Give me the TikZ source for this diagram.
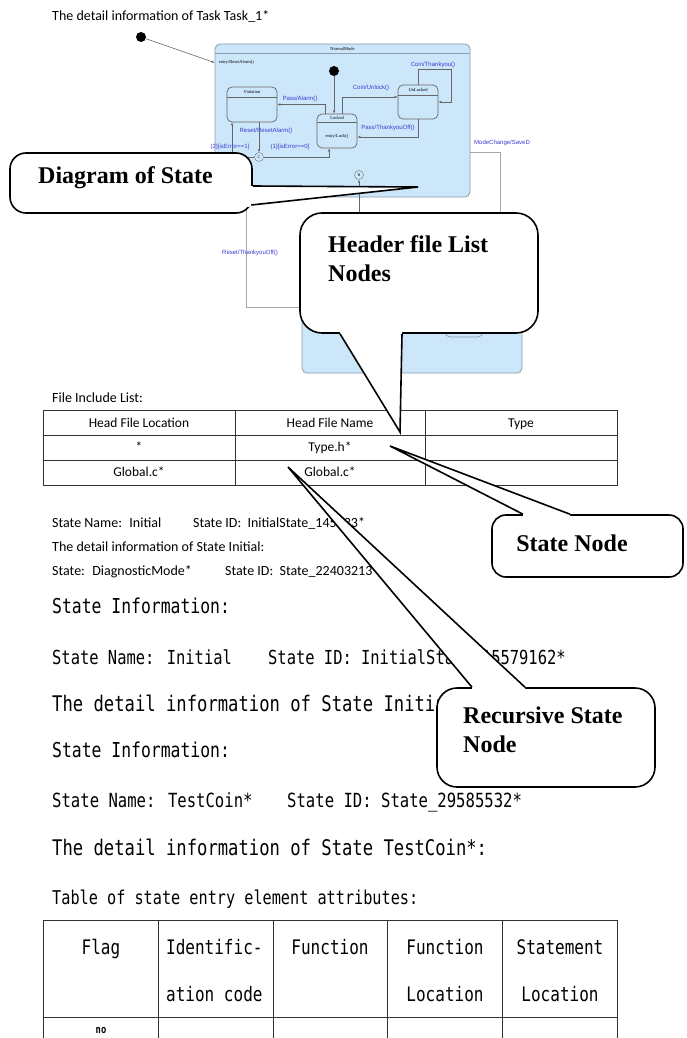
\documentclass[tikz,border=0pt]{standalone}
\usepackage{fontspec}
\setmainfont{Liberation Serif}
\newfontfamily\docfont{Carlito}
\newfontfamily\gothfont[FakeStretch=0.8]{DejaVu Sans Mono}
\newfontfamily\labfont{Liberation Sans}
\usetikzlibrary{arrows.meta}
\definecolor{stfill}{HTML}{CCE6FA}
\definecolor{stedge}{HTML}{8E9CAB}
\definecolor{trblue}{HTML}{3C3CD2}
\tikzstyle{superstate} = [draw=stedge,fill=stfill,rounded corners=5pt,line width=0.8pt]
\tikzstyle{substate} = [draw=black!60,rounded corners=5pt,line width=0.7pt]
\tikzstyle{junction} = [circle,draw=black!55,fill=stfill,minimum size=9pt,inner sep=0pt,font=\fontsize{4}{4}\selectfont]
\tikzstyle{initdot} = [circle,fill=black,minimum size=10pt,inner sep=0pt]
\tikzstyle{trans} = [draw=black!60,line width=0.6pt,-{Latex[length=3pt,width=2.5pt]}]
\tikzstyle{route} = [draw=black!35,line width=0.8pt]
\tikzstyle{trlabel} = [text=trblue,inner sep=0pt,font=\labfont\fontsize{6}{7}\selectfont]
\tikzstyle{stname} = [inner sep=0pt,font=\fontsize{4.5}{5}\selectfont]
\tikzstyle{doctext} = [anchor=base west,inner sep=0pt,font=\docfont\fontsize{14}{16}\selectfont]
\tikzstyle{cellfont} = [anchor=base,inner sep=0pt,font=\docfont\fontsize{13.5}{16}\selectfont]
\tikzstyle{gothtext} = [anchor=base west,inner sep=0pt,font=\gothfont\fontsize{20.5}{24}\selectfont]
\tikzstyle{gothcell} = [anchor=base,inner sep=0pt,font=\gothfont\fontsize{20}{24}\selectfont]
\tikzstyle{cell} = [draw=black!80,line width=0.9pt]
\tikzstyle{callout} = [draw=black,fill=white,line width=1.6pt,rounded corners=16pt]
\tikzstyle{callline} = [draw=black,line width=1.6pt]
\tikzstyle{calltext} = [align=left,inner sep=0pt,font=\bfseries\fontsize{24}{29}\selectfont]

\begin{document}
\begin{tikzpicture}[x=1pt,y=-1pt]
\useasboundingbox (0,0) rectangle (686,1038);
\fill[white] (0,0) rectangle (686,1038);

\node[doctext] (tasktitle) at (52,21) {The detail information of Task Task\_1*};

\node[superstate,minimum width=220pt,minimum height=148pt] (diagmode) at (412,299) {};
\node[substate,draw=stedge,fill=stfill,minimum width=38pt,minimum height=37pt] (diagsub) at (464,318.5) {};
\node[superstate,minimum width=255pt,minimum height=153pt] (normal) at (342.5,120.5) {};
\draw[stedge,line width=0.6pt] ([yshift=-10pt]normal.north west) -- ([yshift=-10pt]normal.north east);
\node[stname] (normalname) at ([yshift=-5pt]normal.north) {NormalMode};
\node[stname,anchor=west] (normalentry) at ([xshift=4pt,yshift=-19pt]normal.north west) {entry/ResetAlarm()};

\node[substate,minimum width=50pt,minimum height=35pt] (violation) at (252,104.5) {};
\node[substate,minimum width=40pt,minimum height=34pt] (locked) at (337,131) {};
\node[substate,minimum width=40pt,minimum height=34pt] (unlocked) at (418,102) {};
\draw[black!60,line width=0.6pt] ([yshift=-11pt]violation.north west) -- ([yshift=-11pt]violation.north east);
\draw[black!60,line width=0.6pt] ([yshift=-9pt]locked.north west) -- ([yshift=-9pt]locked.north east);
\draw[black!60,line width=0.6pt] ([yshift=-11pt]unlocked.north west) -- ([yshift=-11pt]unlocked.north east);
\node[stname] (violationname) at ([yshift=-5.5pt]violation.north) {Violation};
\node[stname] (lockedname) at ([yshift=-4.5pt]locked.north) {Locked};
\node[stname] (unlockedname) at ([yshift=-5.5pt]unlocked.north) {UnLocked};
\node[stname] (lockedentry) at ([yshift=-5pt]locked.center) {entry/Lock()};

\node[junction] (cjunc) at (259,157) {C};
\node[junction] (hjunc) at (359,175) {H};
\node[initdot] (taskinit) at (141,37) {};
\node[initdot] (normalinit) at (334,71) {};
\coordinate (hsrc) at (393,212);

\draw[trans] (taskinit) -- ([yshift=-19pt]normal.north west);
\draw[trans] (normalinit) -- (normalinit |- locked.north);
\draw[trans] ([xshift=-12pt]locked.north) |- (violation.east);
\draw[trans] ([xshift=5pt]locked.north) |- ([yshift=5pt]unlocked.west);
\draw[trans] (unlocked.north) -- ++(0,-15) -- ++(33,0) |- (unlocked.east);
\draw[trans] (unlocked.south) |- ([yshift=-6pt]locked.east);
\draw[trans] ([xshift=7pt]violation.south) -- (cjunc.north);
\draw[trans] (cjunc.east) -| ([xshift=-8pt]locked.south);
\draw[trans] (cjunc.west) -| ([xshift=-20pt]violation.south);
\draw[trans] (hsrc) -| (hjunc.south);
\draw[route] ([yshift=-31.5pt]normal.east) -| ([xshift=-22pt]diagmode.north east);
\draw[route] ([yshift=-8pt]diagmode.west) -| ([xshift=32pt]normal.south west);

\node[trlabel] (lpassalarm) at (300,99) {Pass/Alarm()};
\node[trlabel] (lcoinunlock) at (371,88) {Coin/Unlock()};
\node[trlabel] (lcointhank) at (433,65) {Coin/Thankyou()};
\node[trlabel] (lpassoff) at (388,128) {Pass/ThankyouOff()};
\node[trlabel] (lreset) at (266,131) {Reset/ResetAlarm()};
\node[trlabel] (lerrzero) at (290,147) {(1)[isError==0]};
\node[trlabel] (lerrone) at (230,147) {(2)[isError==1]};
\node[trlabel,anchor=west] (lmode) at (474,143) {ModeChange/SaveD};
\node[trlabel] (lresetoff) at (250,253) {Reset/ThankyouOff()};

\node[doctext] (includetitle) at (52,402) {File Include List:};
\draw[cell] (43,410) rectangle (617,485);
\draw[cell] (43,435) -- (617,435) (43,460) -- (617,460) (235,410) -- (235,485) (425,410) -- (425,485);
\node[cellfont] (hdloc) at (139,427.5) {Head File Location};
\node[cellfont] (hdname) at (330,427.5) {Head File Name};
\node[cellfont] (hdtype) at (521,427.5) {Type};
\node[cellfont] (rowaloc) at (139,451.5) {*};
\node[cellfont] (rowaname) at (330,451.5) {Type.h*};
\node[cellfont] (rowbloc) at (139,476.5) {Global.c*};
\node[cellfont] (rowbname) at (330,476.5) {Global.c*};

\node[doctext] (initname) at (52,527) {State Name:~ Initial};
\node[doctext] (initid) at (193,527) {State ID:~ InitialState\_145833*};
\node[doctext] (initdetail) at (52,551) {The detail information of State Initial:};
\node[doctext] (diagname) at (52,575) {State:~ DiagnosticMode*};
\node[doctext] (diagid) at (225,575) {State ID:~ State\_22403213*};

\node[gothtext] (infoa) at (52,613) {State Information:};
\node[gothtext,font=\gothfont\fontsize{19.3}{23}\selectfont] (subname) at (52,664) {State Name: Initial};
\node[gothtext,font=\gothfont\fontsize{19.3}{23}\selectfont] (subid) at (268,664) {State ID: InitialState\_15579162*};
\node[gothtext,font=\gothfont\fontsize{21.5}{25}\selectfont] (subdetail) at (52,711) {The detail information of State Initial:};
\node[gothtext] (infob) at (52,757) {State Information:};
\node[gothtext,font=\gothfont\fontsize{19.5}{23}\selectfont] (coinname) at (52,807) {State Name: TestCoin*};
\node[gothtext,font=\gothfont\fontsize{19.5}{23}\selectfont] (coinid) at (287,807) {State ID: State\_29585532*};
\node[gothtext,font=\gothfont\fontsize{21.5}{25}\selectfont] (coindetail) at (52,855) {The detail information of State TestCoin*:};
\node[gothtext,font=\gothfont\fontsize{19}{23}\selectfont] (entrytitle) at (52,904) {Table of state entry element attributes:};

\draw[cell] (43,1038) -- (43,920) -- (617,920) -- (617,1038);
\draw[cell] (43,1017) -- (617,1017);
\foreach \x in {158,273,387,502} \draw[cell] (\x,920) -- (\x,1038);
\node[gothcell] (colflag) at (101,954) {Flag};
\node[gothcell,anchor=base west] (colida) at (166,954) {Identific-};
\node[gothcell,anchor=base west] (colidb) at (166,1001) {ation code};
\node[gothcell] (colfun) at (330,954) {Function};
\node[gothcell] (colfloca) at (445,954) {Function};
\node[gothcell] (colflocb) at (445,1001) {Location};
\node[gothcell] (colsloca) at (560,954) {Statement};
\node[gothcell] (colslocb) at (560,1001) {Location};
\node[gothcell,font=\gothfont\bfseries\fontsize{11}{12}\selectfont] (flagno) at (101,1033) {no};

\node[callout,minimum width=242pt,minimum height=60pt] (diagbody) at (131,183) {};
\coordinate (diagtip) at (418,187);
\fill[white] ([xshift=-6pt,yshift=-3pt]diagbody.east) -- (diagtip) -- ([xshift=-6pt,yshift=-24pt]diagbody.east) -- cycle;
\draw[callline] ([yshift=-3pt]diagbody.east) -- (diagtip) -- ([xshift=-1.5pt,yshift=-22pt]diagbody.east);
\node[calltext,anchor=west] (diagtext) at (38,178) {Diagram of State};

\node[callout,minimum width=238pt,minimum height=120pt,rounded corners=22pt] (hdrbody) at (419,273) {};
\coordinate (hdrtip) at (400,432);
\fill[white] ([xshift=-79pt,yshift=4pt]hdrbody.south) -- ([xshift=-79pt]hdrbody.south) -- (hdrtip) -- ([xshift=-17pt]hdrbody.south) -- ([xshift=-17pt,yshift=4pt]hdrbody.south) -- cycle;
\draw[callline] ([xshift=-79pt]hdrbody.south) -- (hdrtip) -- ([xshift=-17pt]hdrbody.south);
\node[calltext,anchor=north west] (hdrtext) at (328,235) {Header file List\\Nodes};

\node[callout,minimum width=191pt,minimum height=62pt,rounded corners=14pt] (stbody) at (587.5,546) {};
\coordinate (sttip) at (390,446);
\fill[white] ([xshift=-64.5pt,yshift=-4pt]stbody.north) -- ([xshift=-64.5pt]stbody.north) -- (sttip) -- ([xshift=-17.5pt]stbody.north) -- ([xshift=-17.5pt,yshift=-4pt]stbody.north) -- cycle;
\draw[callline] ([xshift=-64.5pt]stbody.north) -- (sttip) -- ([xshift=-17.5pt]stbody.north);
\node[calltext] (sttext) at (572,543) {State Node};

\node[callout,minimum width=218pt,minimum height=99pt,rounded corners=20pt] (recbody) at (546,737.5) {};
\coordinate (rectip) at (288,467);
\fill[white] ([xshift=-74pt,yshift=-4pt]recbody.north) -- ([xshift=-74pt]recbody.north) -- (rectip) -- ([xshift=-21pt]recbody.north) -- ([xshift=-21pt,yshift=-4pt]recbody.north) -- cycle;
\draw[callline] ([xshift=-74pt]recbody.north) -- (rectip) -- ([xshift=-21pt]recbody.north);
\node[calltext,anchor=north west] (rectext) at (463,707) {Recursive State\\Node};
\end{tikzpicture}
\end{document}
